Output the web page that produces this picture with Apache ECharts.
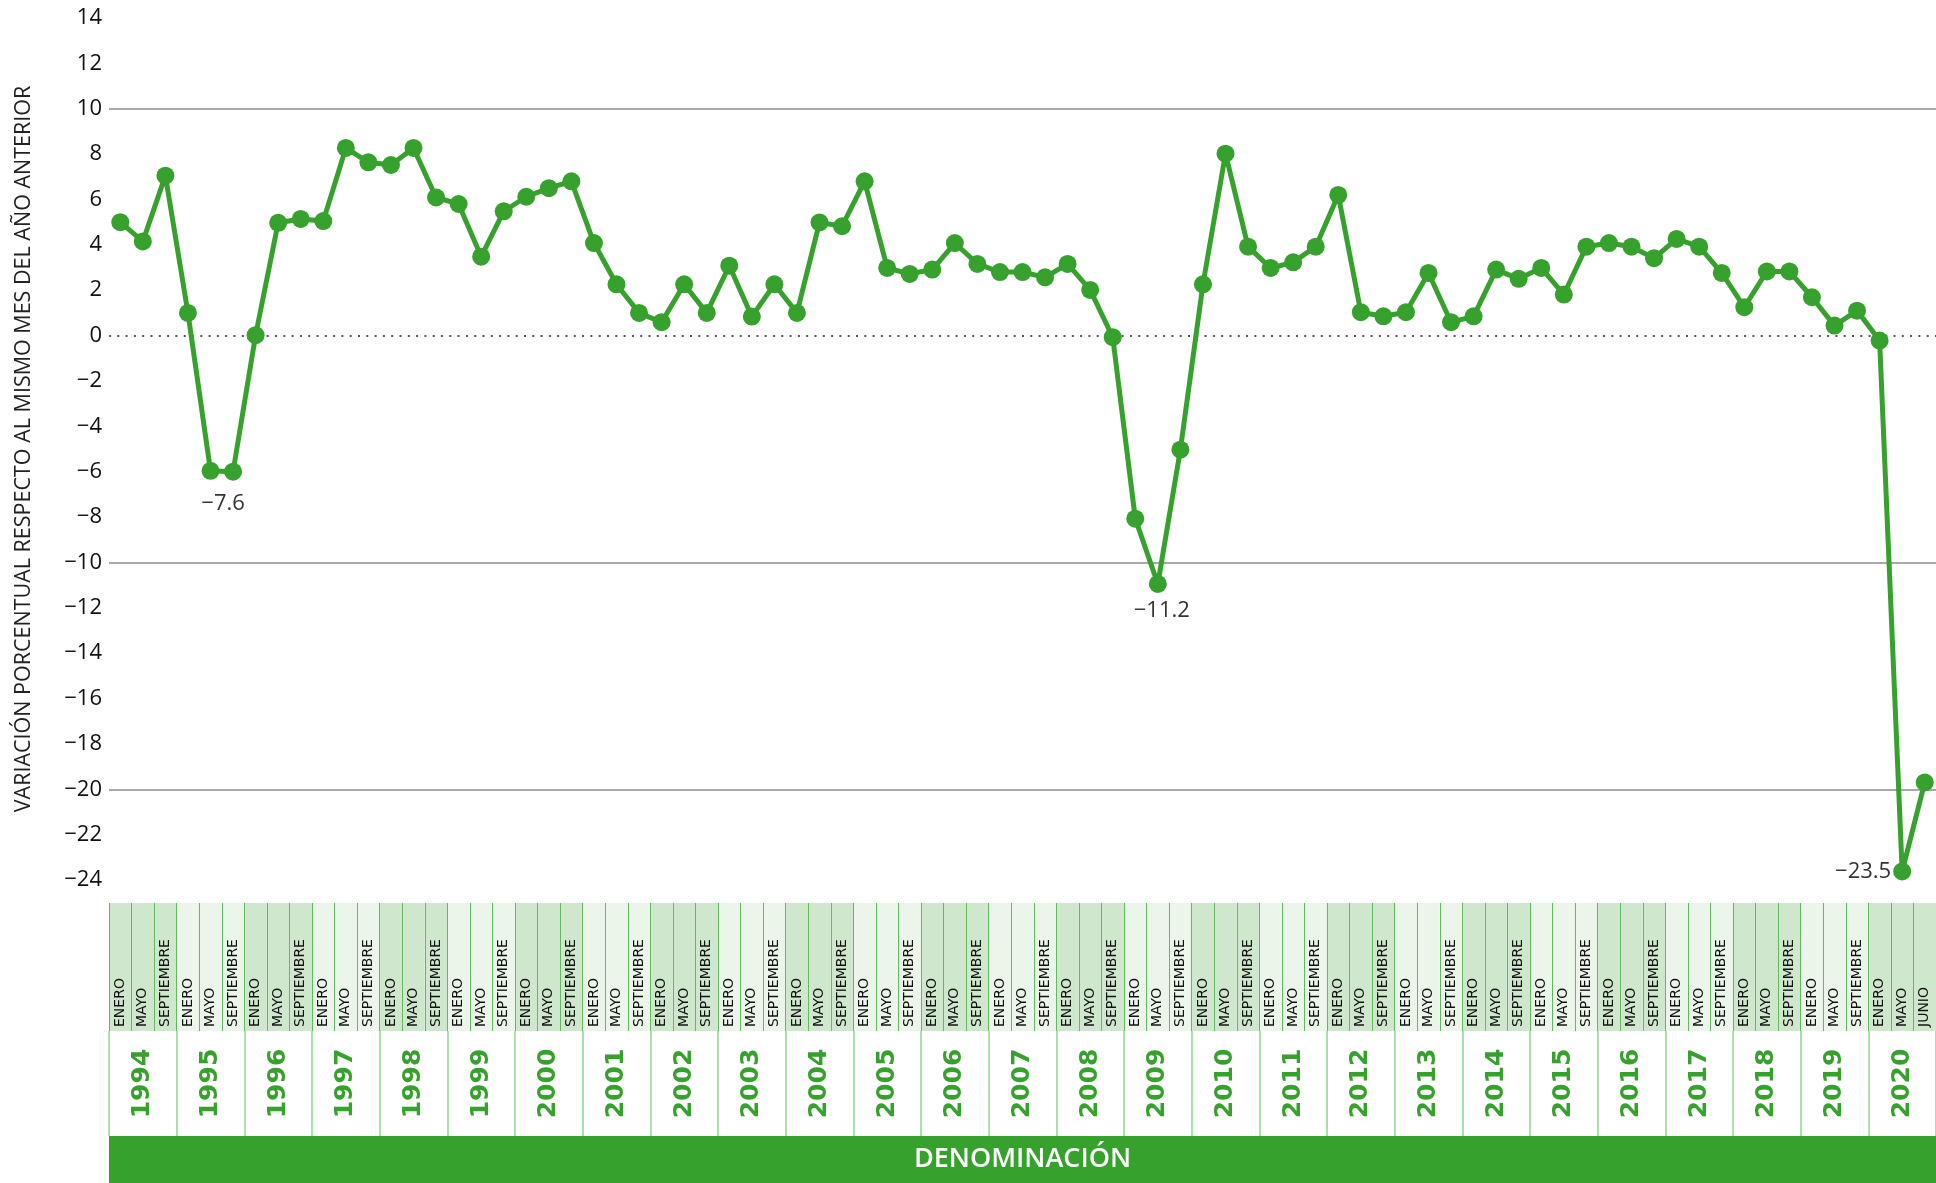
<!DOCTYPE html>
<html>
<head>
<meta charset="utf-8">
<title>Variación porcentual</title>
<script src="https://cdn.jsdelivr.net/npm/echarts@6/dist/echarts.min.js"></script>
<style>
  html, body { margin: 0; padding: 0; background: #fff; }
  #chart { width: 1936px; height: 1183px; }
</style>
</head>
<body>
<div id="chart"></div>
<script>
// años y meses de la denominación
const years = ['1994', '1995', '1996', '1997', '1998', '1999', '2000', '2001', '2002',
  '2003', '2004', '2005', '2006', '2007', '2008', '2009', '2010', '2011', '2012',
  '2013', '2014', '2015', '2016', '2017', '2018', '2019', '2020'];
const monthsRegular = ['ENERO', 'MAYO', 'SEPTIEMBRE'];
const monthsLast = ['ENERO', 'MAYO', 'JUNIO'];

// variación porcentual respecto al mismo mes del año anterior
const values = [
  5.0, 4.15, 7.05,      // 1994
  1.0, -5.96, -6.0,     // 1995
  0.02, 4.97, 5.14,     // 1996
  5.05, 8.27, 7.64,     // 1997
  7.52, 8.27, 6.09,     // 1998
  5.8, 3.48, 5.48,      // 1999
  6.12, 6.5, 6.8,       // 2000
  4.08, 2.26, 1.0,      // 2001
  0.59, 2.26, 1.0,      // 2002
  3.08, 0.84, 2.26,     // 2003
  1.0, 4.99, 4.82,      // 2004
  6.8, 2.98, 2.72,      // 2005
  2.91, 4.08, 3.16,     // 2006
  2.8, 2.8, 2.57,       // 2007
  3.16, 2.01, -0.07,    // 2008
  -8.07, -10.95, -5.03, // 2009
  2.26, 8.02, 3.92,     // 2010
  2.98, 3.23, 3.92,     // 2011
  6.2, 1.03, 0.85,      // 2012
  1.03, 2.76, 0.59,     // 2013
  0.85, 2.91, 2.5,      // 2014
  2.98, 1.81, 3.92,     // 2015
  4.08, 3.92, 3.41,     // 2016
  4.26, 3.92, 2.76,     // 2017
  1.25, 2.83, 2.83,     // 2018
  1.69, 0.44, 1.1,      // 2019
  -0.22, -23.62, -19.7  // 2020
];

// textos de los mínimos (índice del punto y texto)
const minIndex = [5, 46, 79];
const minText = ['−7.6', '−11.2', '−23.5'];

// líneas de referencia
const refLines = [10, -10, -20];
const zeroLine = 0;

const months = [];
years.forEach((y, i) => {
  const m = i === years.length - 1 ? monthsLast : monthsRegular;
  m.forEach((name) => months.push(name));
});

const green = '#36a12c';
const minus = (v) => (v < 0 ? '−' + Math.abs(v) : String(v));

// estilo de las etiquetas de mínimos
const minLabelStyle = [
  { position: 'bottom', distance: 12, offset: [-10, 0] },
  { position: 'bottom', distance: 7, offset: [4, 0] },
  { position: 'left', distance: 2, offset: [0, 0] }
];

const lineData = values.map((v, i) => {
  const k = minIndex.indexOf(i);
  if (k < 0) return v;
  return {
    value: v,
    label: Object.assign({
      show: true,
      formatter: minText[k],
      color: '#333',
      fontSize: 22,
      fontFamily: 'Open Sans'
    }, minLabelStyle[k])
  };
});

const cellData = months.map((m, i) => ({
  value: 1,
  itemStyle: { color: Math.floor(i / 3) % 2 === 0 ? '#cfe7cc' : '#ebf5e9' }
}));

const chart = echarts.init(document.getElementById('chart'));
chart.setOption({
  animation: false,
  textStyle: { fontFamily: 'Open Sans' },
  grid: [
    { left: 109, right: -5, top: 18, height: 862 },
    { left: 109, right: -5, top: 903, height: 128 },
    { left: 109, right: -5, top: 1031, height: 105 }
  ],
  xAxis: [
    {
      type: 'category', gridIndex: 0, data: months, boundaryGap: true,
      axisLine: { show: false }, axisTick: { show: false }, axisLabel: { show: false },
      splitLine: { show: false }
    },
    {
      type: 'category', gridIndex: 1, data: months, boundaryGap: true, z: 5,
      axisLine: { show: false }, axisTick: { show: false }, axisLabel: { show: false },
      splitLine: { show: true, interval: 0, lineStyle: { color: '#62b95e', width: 1 } }
    },
    {
      type: 'category', gridIndex: 2, data: years, boundaryGap: true, z: 5,
      axisLine: { show: false }, axisTick: { show: false }, axisLabel: { show: false },
      splitLine: { show: true, interval: 0, lineStyle: { color: '#8fd68b', width: 1.5 } }
    }
  ],
  yAxis: [
    {
      type: 'value', gridIndex: 0, min: -24, max: 14, interval: 2,
      axisLine: { show: false }, axisTick: { show: false }, splitLine: { show: false },
      axisLabel: {
        margin: 7, color: '#111', fontSize: 22, fontFamily: 'Open Sans',
        formatter: minus
      },
      name: 'VARIACIÓN PORCENTUAL RESPECTO AL MISMO MES DEL AÑO ANTERIOR',
      nameLocation: 'middle', nameRotate: 90, nameGap: 74,
      nameTextStyle: { color: '#222', fontSize: 21.5, fontFamily: 'Open Sans' }
    },
    { type: 'value', gridIndex: 1, min: 0, max: 1, show: false },
    { type: 'value', gridIndex: 2, min: 0, max: 1, show: false }
  ],
  series: [
    {
      type: 'bar', xAxisIndex: 1, yAxisIndex: 1, data: cellData,
      barCategoryGap: '0%', silent: true,
      label: {
        show: true, position: 'insideBottom', distance: 4, rotate: 90,
        align: 'left', verticalAlign: 'middle',
        formatter: (p) => months[p.dataIndex],
        color: '#111', fontSize: 14, fontFamily: 'DejaVu Sans'
      }
    },
    {
      type: 'bar', xAxisIndex: 2, yAxisIndex: 2, data: years.map(() => 1),
      barCategoryGap: '0%', silent: true,
      itemStyle: { color: 'rgba(0,0,0,0)' },
      label: {
        show: true, position: 'inside', rotate: 90,
        formatter: (p) => years[p.dataIndex],
        color: green, fontSize: 25, fontWeight: 'bold', fontFamily: 'DejaVu Sans'
      }
    },
    {
      type: 'line', xAxisIndex: 0, yAxisIndex: 0, data: lineData, z: 10,
      symbol: 'circle', symbolSize: 18, showSymbol: true, showAllSymbol: true,
      itemStyle: { color: green },
      lineStyle: { color: green, width: 5 },
      markLine: {
        silent: true, symbol: 'none', label: { show: false },
        data: refLines.map((v) => ({
          yAxis: v, lineStyle: { color: '#8c8c8c', width: 1.5, type: 'solid' }
        })).concat([{
          yAxis: zeroLine, lineStyle: { color: '#555', width: 2, type: [2, 6.3] }
        }])
      }
    }
  ],
  graphic: [
    {
      type: 'rect', left: 109, top: 1136,
      shape: { width: 1827, height: 47 },
      style: { fill: green },
      textContent: {
        style: { text: 'DENOMINACIÓN', fill: '#fff', font: '600 27px "Open Sans"' }
      },
      textConfig: { position: 'inside' }
    }
  ]
});
</script>
</body>
</html>
